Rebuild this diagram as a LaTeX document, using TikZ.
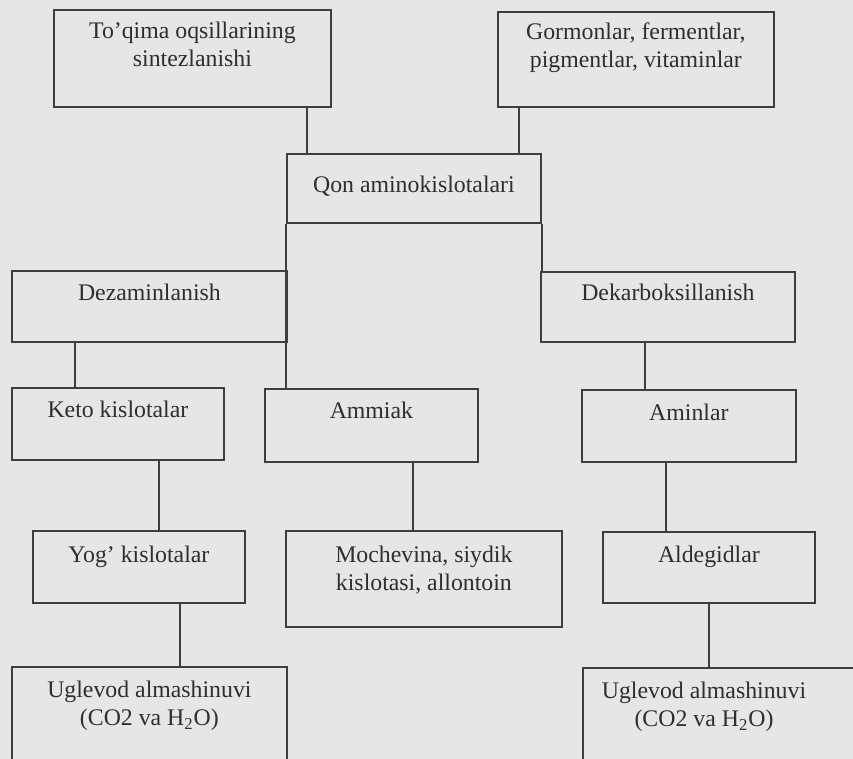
\documentclass[tikz,border=0pt]{standalone}
\usepackage{fontspec}
\setmainfont{Liberation Serif}
\definecolor{paper}{RGB}{230,230,230}
\definecolor{ink}{RGB}{62,62,62}
\begin{document}
\begin{tikzpicture}[x=0.5pt,y=-0.5pt,
    box/.style={draw=ink,line width=0.9pt,fill=paper,anchor=north west,inner sep=0pt},
    txt/.style={anchor=north,inner sep=0pt,align=center,text=ink!75!black,font=\fontsize{11.9}{14}\selectfont},
    link/.style={draw=ink,line width=0.9pt}]
      \clip (0,0) rectangle (853,759);
      \fill[paper] (0,0) rectangle (853,759);
      \node[box,minimum width=138.5pt,minimum height=48.5pt] (toq) at (53,9) {};
      \node[box,minimum width=138pt,minimum height=47.5pt] (gorm) at (497,11) {};
      \node[box,minimum width=127pt,minimum height=34.5pt] (qon) at (286,153) {};
      \node[box,minimum width=137.5pt,minimum height=35.5pt] (dez) at (11,270) {};
      \node[box,minimum width=127pt,minimum height=35pt] (dek) at (540,271) {};
      \node[box,minimum width=106pt,minimum height=36pt] (keto) at (11,387) {};
      \node[box,minimum width=106.5pt,minimum height=36.5pt] (amm) at (264,388) {};
      \node[box,minimum width=107pt,minimum height=36pt] (amin) at (581,389) {};
      \node[box,minimum width=106pt,minimum height=36pt] (yog) at (32,530) {};
      \node[box,minimum width=138pt,minimum height=48pt] (moch) at (285,530) {};
      \node[box,minimum width=106pt,minimum height=35.5pt] (ald) at (602,531) {};
      \node[box,minimum width=137.5pt,minimum height=60pt] (uglL) at (11,666) {};
      \node[box,minimum width=150pt,minimum height=60pt] (uglR) at (582,667) {};
      \node[txt] (toq-t) at ([yshift=-6.5pt]toq.north) {To'qima oqsillarining\\sintezlanishi};
      \node[txt] (gorm-t) at ([yshift=-5.5pt]gorm.north) {Gormonlar, fermentlar,\\pigmentlar, vitaminlar};
      \node[txt] (qon-t) at ([yshift=-11.5pt]qon.north) {Qon aminokislotalari};
      \node[txt] (dez-t) at ([yshift=-7pt]dez.north) {Dezaminlanish};
      \node[txt] (dek-t) at ([yshift=-6.5pt]dek.north) {Dekarboksillanish};
      \node[txt] (keto-t) at ([yshift=-7pt]keto.north) {Keto kislotalar};
      \node[txt] (amm-t) at ([yshift=-7pt]amm.north) {Ammiak};
      \node[txt] (amin-t) at ([yshift=-7.5pt]amin.north) {Aminlar};
      \node[txt] (yog-t) at ([yshift=-8pt]yog.north) {Yog' kislotalar};
      \node[txt] (moch-t) at ([yshift=-8pt]moch.north) {Mochevina, siydik\\kislotasi, allontoin};
      \node[txt] (ald-t) at ([yshift=-7.5pt]ald.north) {Aldegidlar};
      \node[txt] (uglL-t) at ([yshift=-7.5pt]uglL.north) {Uglevod almashinuvi\\(CO2 va H\textsubscript{2}O)};
      \node[txt] (uglR-t) at ([xshift=61pt,yshift=-7.5pt]uglR.north west) {Uglevod almashinuvi\\(CO2 va H\textsubscript{2}O)};
      \draw[link] (toq.south west) ++(254,0) coordinate (c1) -- (c1 |- qon.north);
      \draw[link] (gorm.south west) ++(22,0) coordinate (c2) -- (c2 |- qon.north);
      \draw[link] (qon.south west) -- (qon.south west |- amm.north);
      \draw[link] (qon.south east) -- (qon.south east |- dek.north);
      \draw[link] (dez.south west) ++(64,0) coordinate (c3) -- (c3 |- keto.north);
      \draw[link] (dek.south west) ++(105,0) coordinate (c4) -- (c4 |- amin.north);
      \draw[link] (keto.south west) ++(148,0) coordinate (c5) -- (c5 |- yog.north);
      \draw[link] (amm.south west) ++(149,0) coordinate (c6) -- (c6 |- moch.north);
      \draw[link] (amin.south west) ++(85,0) coordinate (c7) -- (c7 |- ald.north);
      \draw[link] (yog.south west) ++(148,0) coordinate (c8) -- (c8 |- uglL.north);
      \draw[link] (ald.south west) ++(107,0) coordinate (c9) -- (c9 |- uglR.north);
\end{tikzpicture}
\end{document}
